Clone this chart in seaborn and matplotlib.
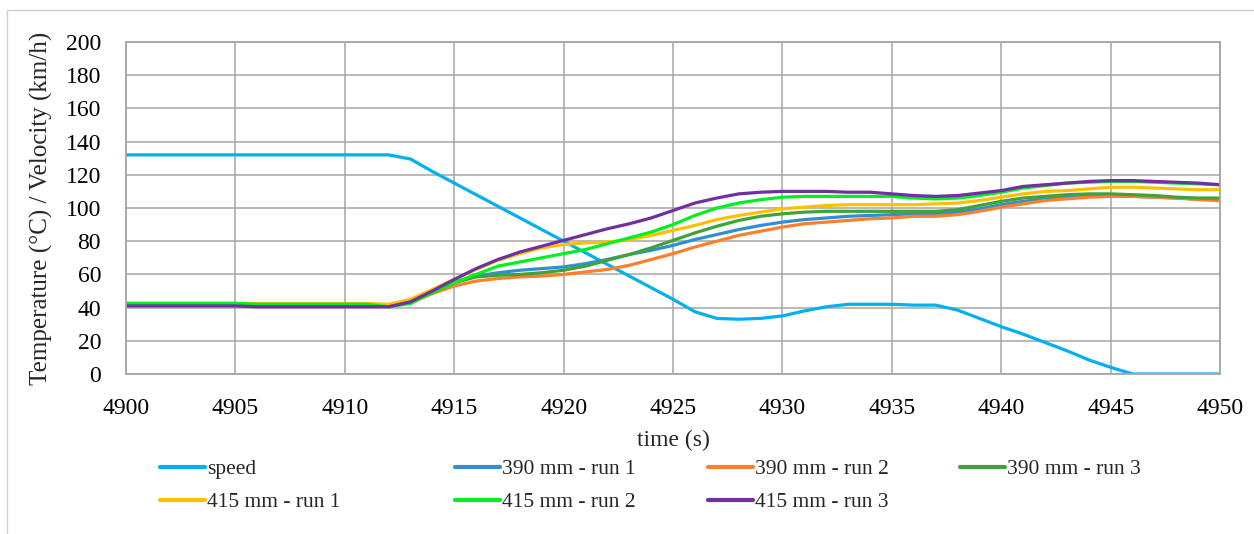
import numpy as np
import pandas as pd
import matplotlib
matplotlib.use("Agg")
import matplotlib.pyplot as plt
from matplotlib.patches import Rectangle
import seaborn as sns

time_s = list(range(4900, 4951))

speed = [132] * 13 + [129.5, 122, 115, 108, 101, 94, 87, 80, 73, 66, 59, 52, 45, 37.5,
                      33.5, 33, 33.5, 35, 38, 40.5, 42, 42, 42, 41.5, 41.5, 38.5, 33.5,
                      28.5, 24, 19, 14, 8.5, 4, 0, 0, 0, 0, 0]

mm390_run1 = [42] * 12 + [41.5, 43.5, 50, 55.5, 59, 61, 62.5, 63.5, 64.5, 66.5, 69, 72,
                          74.5, 77.5, 81, 84, 87, 89.5, 91.5, 93, 94, 95, 95.5, 96, 96.5,
                          96.5, 97.5, 99.5, 102, 104, 105.5, 106.5, 107, 107.5, 107, 106.5,
                          106, 105.5, 105.5]

mm390_run2 = [42] * 12 + [41.5, 43, 48.5, 53, 56, 57.5, 58.5, 59, 60, 61.5, 63, 65.5, 69,
                          72.5, 76.5, 80, 83.5, 86, 88.5, 90.5, 91.5, 92.5, 93.5, 94, 95, 95,
                          96, 98, 100.5, 102.5, 104.5, 105.5, 106.5, 107, 107, 106.5, 106,
                          105, 104.5]

mm390_run3 = [42.5] * 6 + [42] * 6 + [41, 43, 49, 55, 58.5, 59.5, 60, 61, 62.5, 65, 68.5,
                                      72, 76, 80.5, 85, 89, 92.5, 95, 96.5, 97.5, 98, 98,
                                      98, 98, 98, 98, 99, 101.5, 104, 106, 107, 108, 108.5,
                                      108.5, 108, 107.5, 106.5, 106, 106]

mm415_run1 = [42.5] * 12 + [42, 45, 51, 57, 63, 68.5, 72.5, 76, 78, 79, 79.5, 81, 83.5,
                            86.5, 89.5, 93, 95.5, 97.5, 99.5, 100.5, 101.5, 102, 102, 102,
                            102, 102.5, 103, 104.5, 106.5, 108.5, 110, 110.5, 111.5, 112.5,
                            112.5, 112, 111.5, 111, 111]

mm415_run2 = [42.5] * 6 + [42] * 6 + [40.5, 42.5, 49, 55, 60, 65, 67.5, 70, 72.5, 75, 78.5,
                                      82, 85.5, 90, 95.5, 100, 103, 105, 106.5, 107, 107,
                                      107, 107, 107, 106, 105.5, 106, 107.5, 109.5, 112,
                                      113.5, 115, 115.5, 116, 116, 115.5, 115, 114.5, 114]

mm415_run3 = [41] * 6 + [40.5] * 7 + [43.5, 50, 57, 63.5, 69, 73.5, 77, 80.5, 84, 87.5,
                                      90.5, 94, 98.5, 103, 106, 108.5, 109.5, 110, 110, 110,
                                      109.5, 109.5, 108.5, 107.5, 107, 107.5, 109, 110.5,
                                      113, 114, 115, 116, 116.5, 116.5, 116, 115.5, 115, 114]

series = {
    "speed": speed,
    "390 mm - run 1": mm390_run1,
    "390 mm - run 2": mm390_run2,
    "390 mm - run 3": mm390_run3,
    "415 mm - run 1": mm415_run1,
    "415 mm - run 2": mm415_run2,
    "415 mm - run 3": mm415_run3,
}

colors = {
    "speed": "#00B0F0",
    "390 mm - run 1": "#2F8FD2",
    "390 mm - run 2": "#FF7F2A",
    "390 mm - run 3": "#3FA33A",
    "415 mm - run 1": "#FFC000",
    "415 mm - run 2": "#00F020",
    "415 mm - run 3": "#7030A0",
}

df = pd.concat(
    [pd.DataFrame({"time": time_s, "value": vals, "series": name}) for name, vals in series.items()],
    ignore_index=True,
)

sns.set_style("whitegrid")
plt.rcParams["font.family"] = ["Liberation Serif", "DejaVu Serif"]

fig = plt.figure(figsize=(12.54, 5.34), dpi=100)
ax = fig.add_axes([0.1005, 0.2996, 0.8725, 0.6218])

sns.lineplot(data=df, x="time", y="value", hue="series", palette=colors,
             hue_order=list(series.keys()), linewidth=2.3, ax=ax, legend=False)

ax.set_xlim(4900, 4950)
ax.set_ylim(0, 200)
ax.set_xticks(range(4900, 4951, 5))
ax.set_yticks(range(0, 201, 20))
ax.grid(True, color="#A6A6A6", linewidth=1.1)
for sp in ax.spines.values():
    sp.set_color("#A6A6A6")
    sp.set_linewidth(1.3)
ax.tick_params(axis="both", labelsize=17, colors="black", length=0)
ax.tick_params(axis="x", pad=17)
ax.tick_params(axis="y", pad=18)
ax.set_xlabel("time (s)", fontsize=17, labelpad=8)
ax.set_ylabel("Temperature (°C) / Velocity (km/h)", fontsize=18, labelpad=9)

# legend: one small legend per column, placed like the original's columns
legend_cols = [["speed", "415 mm - run 1"],
               ["390 mm - run 1", "415 mm - run 2"],
               ["390 mm - run 2", "415 mm - run 3"],
               ["390 mm - run 3"]]
col_x = [160, 455, 708, 960]
for names, x in zip(legend_cols, col_x):
    handles = [plt.Line2D([], [], color=colors[n], linewidth=3) for n in names]
    fig.legend(handles, names, loc="upper left", bbox_to_anchor=(x / 1254, 0.140),
               frameon=False, fontsize=15.5, handlelength=2.1, handletextpad=0.1,
               labelspacing=0.6, borderaxespad=0, borderpad=0)

fig.patches.append(Rectangle((0.0055, -0.05), 1.1, 0.05 + 0.981, transform=fig.transFigure,
                             fill=False, edgecolor="#D0D0D0", linewidth=1.0))

fig.savefig("out.png", dpi=100)
